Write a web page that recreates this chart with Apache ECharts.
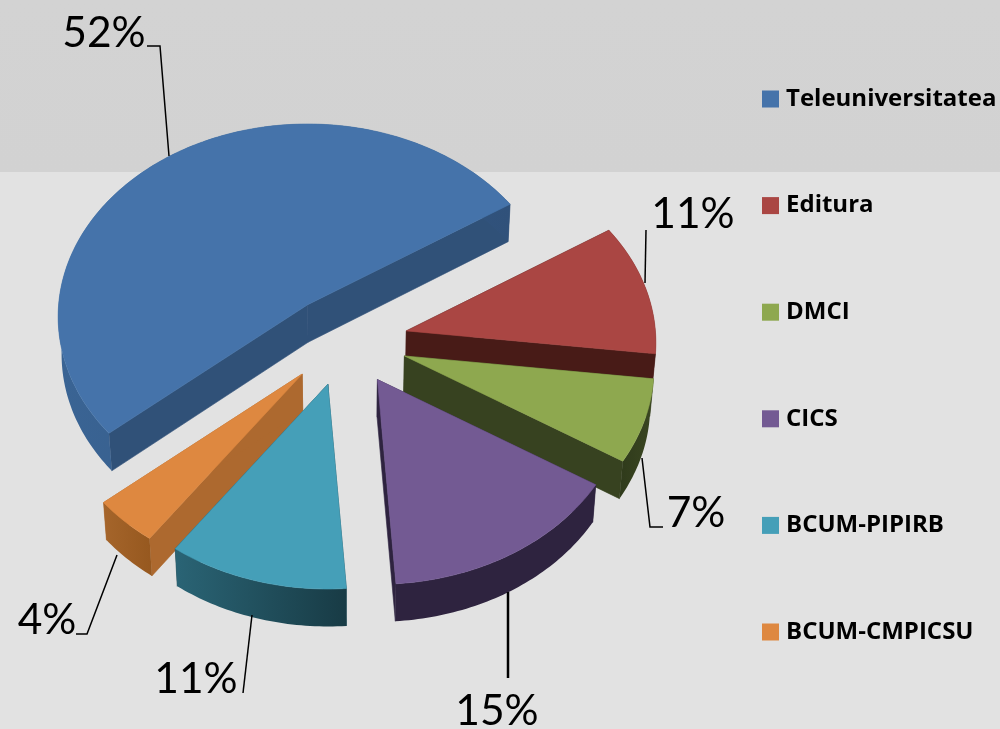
<!DOCTYPE html>
<html>
<head>
<meta charset="utf-8">
<style>
  html, body { margin: 0; padding: 0; background: #e2e2e2; }
  #chart { width: 1000px; height: 729px; }
</style>
<script src="https://cdn.jsdelivr.net/npm/echarts@6/dist/echarts.min.js"></script>
</head>
<body>
<div id="chart"></div>
<script>
const categories = ["Teleuniversitatea", "Editura", "DMCI", "CICS", "BCUM-PIPIRB", "BCUM-CMPICSU"];
const percents = [52, 11, 7, 15, 11, 4];

const topColors = ["#4573aa", "#aa4643", "#8ea84f", "#735a93", "#459fb8", "#de8840"];
const radialWallColors = ["#305178", "#481b17", "#374220", "#2e233f", "#1d4854", "#ad692f"];
const outerWallLeft = ["#3a6494", "#481b17", "#2f3a1b", "#2e233f", "#2a6475", "#a5652b"];
const outerWallRight = ["#30517a", "#481b17", "#3a4621", "#2e233f", "#183b45", "#96581f"];
// back to front
const paintOrder = [0, 1, 2, 5, 4, 3];

// text position, then the bends of the leader line
const labelPlaces = [
  { text: [104, 33], line: [[147, 46], [160, 46], [169, 156]] },
  { text: [693, 214], line: [[646, 230], [645, 283]] },
  { text: [696, 513], line: [[642, 458], [650, 527], [663, 527]] },
  { text: [497, 711], line: [[508, 592], [508, 678]] },
  { text: [196, 679], line: [[252, 615], [243, 693]] },
  { text: [47, 620], line: [[117, 555], [87, 634], [76, 634]] },
];

const firstAngle = 230;
const center = [345, 341];
const radiusX = 249;
const radiusY = 192;
const perspective = 0.062;
const explodeX = 63;
const explodeY = 45;
const depth = 37.5;
const wallLean = 0.012;

const rad = (deg) => (deg * Math.PI) / 180;
const total = percents.reduce((a, b) => a + b, 0);

function sliceAngles(index) {
  const before = percents.slice(0, index).reduce((a, b) => a + b, 0);
  const start = firstAngle + (before / total) * 360;
  return [start, start + (percents[index] / total) * 360];
}

function sliceGeometry(index) {
  const [start, end] = sliceAngles(index);
  const mid = rad((start + end) / 2);
  const ax = center[0] + explodeX * Math.sin(mid);
  const ay = center[1] - explodeY * Math.cos(mid);
  const rim = [];
  const steps = Math.ceil(end - start);
  for (let i = 0; i <= steps; i++) {
    const t = rad(start + ((end - start) * i) / steps);
    const p = 1 / (1 + perspective * Math.cos(t));
    rim.push([ax + radiusX * Math.sin(t) * p, ay - radiusY * Math.cos(t) * p]);
  }
  return { apex: [ax, ay], rim };
}

const down = (pt) => [pt[0] + (center[0] - pt[0]) * wallLean, pt[1] + depth];

function face(points, fill) {
  return {
    type: "polygon",
    shape: { points },
    style: { fill, stroke: typeof fill === "string" ? fill : null, lineWidth: 0.6 },
  };
}

function renderSlice(index) {
  return function () {
    const { apex, rim } = sliceGeometry(index);
    const first = rim[0];
    const last = rim[rim.length - 1];
    const outer = rim.concat(rim.map(down).reverse());
    const shade = new echarts.graphic.LinearGradient(0, 0, 1, 0, [
      { offset: 0, color: outerWallLeft[index] },
      { offset: 1, color: outerWallRight[index] },
    ]);
    return {
      type: "group",
      children: [
        face([apex, first, down(first), down(apex)], radialWallColors[index]),
        face([apex, last, down(last), down(apex)], radialWallColors[index]),
        face(outer, shade),
        face([apex].concat(rim), topColors[index]),
      ],
    };
  };
}

function renderLabel(params, api) {
  const index = params.dataIndex;
  const place = labelPlaces[index];
  return {
    type: "group",
    children: [
      {
        type: "polyline",
        shape: { points: place.line },
        style: { stroke: "#000", lineWidth: index === 3 ? 2.5 : 1.5, fill: null },
      },
      {
        type: "text",
        x: place.text[0],
        y: place.text[1],
        style: {
          text: api.value(0) + "%",
          fill: "#000",
          font: '42.5px Lato, "Open Sans", sans-serif',
          textAlign: "center",
          textVerticalAlign: "middle",
        },
      },
    ],
  };
}

const sliceSeries = paintOrder.map((index, order) => ({
  type: "custom",
  name: categories[index],
  coordinateSystem: "none",
  z: 2 + order,
  itemStyle: { color: topColors[index] },
  data: [[percents[index]]],
  renderItem: renderSlice(index),
}));

const labelSeries = {
  type: "custom",
  name: "labels",
  coordinateSystem: "none",
  z: 20,
  data: percents.map((p) => [p]),
  renderItem: renderLabel,
};

const myChart = echarts.init(document.getElementById("chart"), null, { renderer: "canvas" });

myChart.setOption({
  animation: false,
  backgroundColor: new echarts.graphic.LinearGradient(0, 0, 0, 1, [
    { offset: 0, color: "#d3d3d3" },
    { offset: 172 / 729, color: "#d2d2d2" },
    { offset: 172 / 729, color: "#e2e2e2" },
    { offset: 1, color: "#e2e2e2" },
  ]),
  legend: {
    data: categories.map((name) => ({ name, icon: "rect" })),
    orient: "vertical",
    left: 762,
    top: 84,
    padding: 0,
    itemWidth: 17,
    itemHeight: 17,
    itemGap: 76.6,
    selectedMode: false,
    textStyle: {
      color: "#000",
      fontFamily: "Open Sans",
      fontWeight: "bold",
      fontSize: 24,
      padding: [0, 0, 0, 2],
      lineHeight: 30,
    },
  },
  series: sliceSeries.concat(labelSeries),
});

window.addEventListener("resize", myChart.resize);
</script>
</body>
</html>
